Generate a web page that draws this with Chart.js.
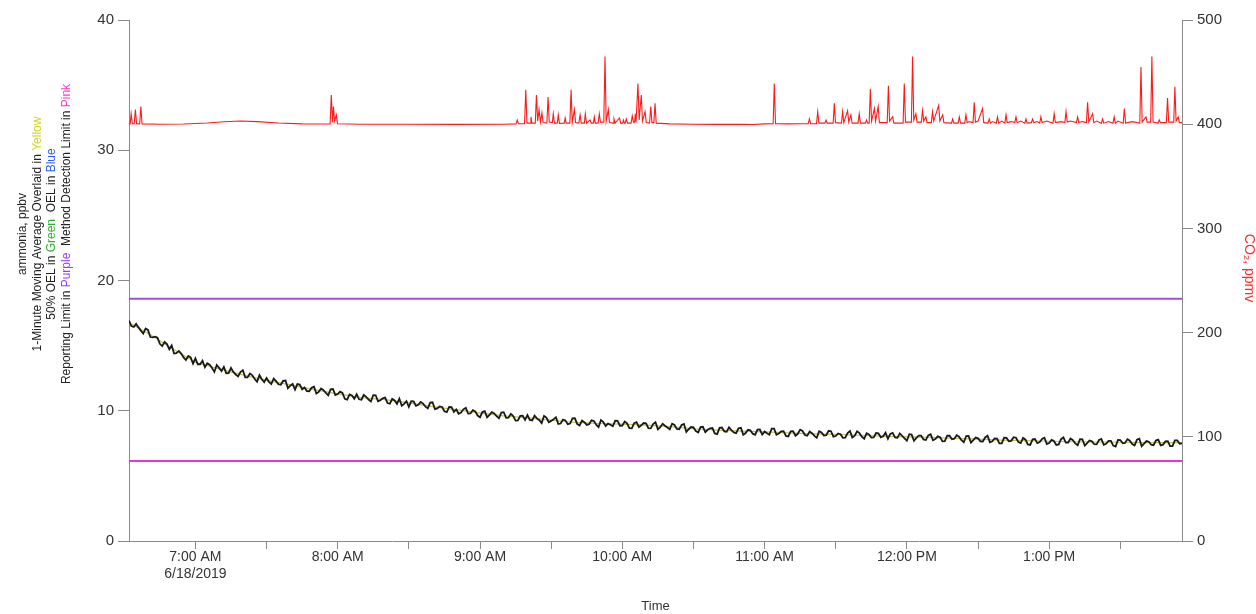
<!DOCTYPE html>
<html>
<head>
<meta charset="utf-8">
<title>Ammonia and CO2</title>
<script src="https://cdn.jsdelivr.net/npm/chart.js@4.4.1/dist/chart.umd.min.js"></script>
<style>
  html, body { margin: 0; padding: 0; background: #fff; }
  #wrap { width: 1256px; height: 614px; }
</style>
</head>
<body>
<div id="wrap"><canvas id="chart" width="1256" height="614"></canvas></div>
<script>
// time axis in minutes after midnight, 6/18/2019
const timeMin = 392;
const timeMax = 836;
const dateLabel = '6/18/2019';

// ammonia raw signal, one reading per minute from 6:32 AM (ppbv)
const rawStartMin = 392;
const rawStepMin = 1;
const ammoniaRaw = [
  16.93, 16.50, 16.43, 16.67, 16.40, 16.15, 15.93, 16.32, 16.21, 15.66,
  15.64, 15.69, 15.61, 15.14, 14.96, 15.28, 15.12, 14.72, 15.01, 14.40,
  14.42, 14.59, 14.39, 14.09, 13.90, 14.20, 14.09, 13.61, 14.02, 13.57,
  13.57, 13.84, 13.34, 13.65, 13.53, 13.29, 12.98, 13.51, 13.29, 13.05,
  13.37, 12.88, 12.89, 13.28, 12.98, 12.78, 12.64, 12.97, 13.11, 12.56,
  12.57, 12.85, 12.72, 12.44, 12.23, 12.73, 12.42, 12.19, 12.52, 12.22,
  12.05, 12.47, 12.27, 12.03, 11.99, 12.29, 12.32, 11.73, 11.92, 12.06,
  11.62, 12.05, 12.01, 11.65, 11.79, 11.51, 11.50, 11.76, 11.84, 11.32,
  11.45, 11.71, 11.58, 11.38, 11.19, 11.64, 11.67, 11.20, 11.28, 11.47,
  11.37, 10.92, 10.85, 11.26, 11.18, 10.92, 11.26, 10.88, 10.85, 11.21,
  11.07, 10.86, 10.71, 11.20, 11.19, 10.72, 10.81, 10.95, 11.01, 10.59,
  10.54, 10.91, 10.79, 10.53, 10.93, 10.39, 10.53, 10.74, 10.29, 10.74,
  10.72, 10.37, 10.45, 10.68, 10.55, 10.31, 10.18, 10.62, 10.65, 10.12,
  10.18, 10.33, 10.29, 9.96, 9.90, 10.29, 10.28, 9.91, 10.10, 9.77,
  9.86, 10.11, 10.22, 9.78, 9.79, 10.05, 9.95, 9.63, 9.50, 9.90,
  9.97, 9.49, 9.68, 9.89, 9.80, 9.59, 9.42, 9.86, 9.89, 9.46,
  9.47, 9.76, 9.59, 9.24, 9.26, 9.61, 9.62, 9.30, 9.67, 9.29,
  9.26, 9.62, 9.41, 9.27, 9.05, 9.60, 9.48, 9.12, 9.22, 9.34,
  9.50, 8.99, 9.02, 9.32, 9.26, 8.96, 9.02, 9.41, 9.42, 8.98,
  8.87, 9.24, 9.12, 8.91, 8.97, 9.26, 9.21, 8.93, 8.75, 9.29,
  9.13, 8.83, 9.01, 8.92, 8.81, 9.23, 9.22, 8.85, 8.86, 9.17,
  9.03, 8.66, 8.65, 9.05, 9.13, 8.75, 8.88, 9.06, 9.04, 8.67,
  8.65, 8.97, 9.12, 8.57, 8.74, 9.00, 8.85, 8.71, 8.58, 9.01,
  8.91, 8.60, 8.58, 8.90, 8.98, 8.38, 8.58, 8.75, 8.72, 8.44,
  8.34, 8.74, 8.77, 8.35, 8.54, 8.65, 8.67, 8.26, 8.21, 8.69,
  8.71, 8.42, 8.39, 8.72, 8.51, 8.34, 8.28, 8.65, 8.69, 8.15,
  8.29, 8.54, 8.50, 8.24, 8.16, 8.55, 8.56, 8.17, 8.40, 8.27,
  8.16, 8.63, 8.63, 8.16, 8.25, 8.41, 8.43, 8.07, 8.03, 8.42,
  8.43, 8.08, 8.23, 8.55, 8.45, 8.14, 8.08, 8.40, 8.28, 8.07,
  7.92, 8.43, 8.33, 8.10, 8.12, 8.46, 8.43, 8.01, 8.06, 8.26,
  8.20, 7.92, 7.93, 8.28, 8.44, 7.94, 8.08, 8.42, 8.28, 8.01,
  7.85, 8.27, 8.18, 7.94, 7.95, 8.29, 8.27, 7.96, 8.04, 8.32,
  7.85, 8.22, 8.30, 7.95, 7.92, 8.26, 8.08, 7.88, 7.70, 8.20,
  8.17, 7.70, 7.92, 8.09, 8.09, 7.80, 7.75, 8.11, 8.20, 7.73,
  7.83, 8.03, 7.96, 7.65, 7.67, 8.08, 8.08, 7.81, 7.85, 8.12,
  8.01, 7.74, 7.58, 8.06, 8.07, 7.55, 7.74, 7.94, 7.88, 7.65,
  7.64, 7.95, 8.08, 7.57, 7.65, 7.87, 7.86, 7.49, 7.50, 7.93,
  7.91, 7.66, 7.69, 7.97, 7.93, 7.59, 7.52, 7.91, 7.78, 7.41,
  7.38, 7.80, 7.83, 7.51, 7.60, 7.83, 7.93, 7.45, 7.52, 7.76,
  7.68, 7.38, 7.42, 7.82, 7.95, 7.56, 7.56, 7.87, 7.74, 7.49,
  7.35, 7.82, 7.81, 7.32, 7.51, 7.72, 7.65, 7.43, 7.42, 7.75,
  7.84, 7.38, 7.47, 7.69, 7.68, 7.32, 7.25, 7.76, 7.75, 7.50,
  7.53, 7.82, 7.70, 7.44, 7.34, 7.77, 7.85, 7.28, 7.47, 7.67,
  7.62, 7.39, 7.36, 7.71, 7.78, 7.34, 7.40, 7.65, 7.66, 7.28,
  7.29, 7.73, 7.73, 7.47, 7.49
];

// 1-minute moving average (yellow overlay)
const avgTime = [392, 400, 410, 420, 430, 440, 450, 460, 470, 480, 490, 500, 510, 520, 530,
  540, 550, 560, 570, 580, 590, 600, 610, 620, 630, 640, 650, 660, 670, 680, 690,
  700, 710, 720, 730, 740, 750, 760, 770, 780, 790, 800, 810, 820, 830, 836];
const avgValue = [16.75, 15.95, 14.80, 13.72, 13.22, 12.75, 12.33, 11.98, 11.62, 11.30, 11.00, 10.85, 10.60, 10.32, 10.08,
  9.82, 9.60, 9.45, 9.28, 9.10, 9.02, 8.97, 8.90, 8.78, 8.62, 8.52, 8.44, 8.38, 8.30, 8.22, 8.18,
  8.12, 8.05, 8.00, 7.95, 7.88, 7.82, 7.75, 7.70, 7.66, 7.62, 7.60, 7.58, 7.56, 7.55, 7.55];

const reportingLimit = 18.6;   // purple
const detectionLimit = 6.15;   // pink

// CO2 trace (ppmv)
const co2Time = [
  392, 392.5, 392.9, 393.4, 394.2, 394.7, 395.2, 396.5, 397.0, 397.5,
  405, 415, 425, 432, 439, 446, 455, 465, 475,
  476.8, 477.3, 477.8, 478.2, 478.7, 479.4, 479.9,
  490, 510, 530, 550,
  555.2, 555.7, 556.2,
  558.8, 559.3, 559.8,
  561.2, 561.5, 561.9,
  563.3, 563.8, 564.3, 564.9, 565.5, 566.1, 566.6,
  568.2, 568.7, 569.2,
  570.5, 570.9, 571.4,
  572.6, 573.0, 573.5,
  575.5, 575.9, 576.3,
  577.9, 578.4, 578.9, 579.8, 580.3,
  581.7, 582.2, 582.7,
  584.0, 584.4, 584.9, 586.4, 586.9,
  587.8, 588.2, 588.6,
  589.8, 590.3, 590.8, 592.2, 592.7, 593.2, 594.1, 594.6,
  596.1, 596.5, 597.0, 598.8, 599.3,
  600.2, 600.5, 600.9,
  601.2, 601.7, 602.2,
  603.7, 604.2, 604.7, 605.2, 605.5, 605.8, 606.1, 606.6, 607.1, 608.0, 608.5, 609.6, 610.1,
  611.5, 612.0, 612.5, 613.3, 613.8, 614.3,
  620, 630, 640, 650, 655, 660,
  663.6, 664.1, 664.6,
  670, 676,
  678.4, 678.9, 679.4,
  681.9, 682.4, 682.9,
  685.4, 685.9, 686.4,
  688.9, 689.4, 689.9,
  692.4, 692.9, 693.4, 695.0, 695.5, 696.4, 696.9,
  699.4, 699.9, 700.4,
  702.5, 703.0, 703.5,
  704.1, 704.6, 705.1, 706.3, 706.8, 707.9, 708.4,
  711.7, 712.2, 712.7, 714.0, 714.5,
  718.4, 718.9, 719.4,
  721.9, 722.4, 722.9, 723.8, 724.3,
  726.1, 726.6, 727.1, 728.0, 728.5,
  730.3, 730.8, 731.3, 733.4, 733.9, 735.1, 735.6,
  738.8, 739.3, 739.8,
  741.6, 742.1, 742.6,
  744.4, 744.9, 745.4, 746.2,
  747.9, 748.4, 748.9, 750.0, 751.9, 752.4,
  754.2, 754.7, 755.2, 756.0,
  757.7, 758.2, 758.7, 760.0,
  761.3, 761.8, 762.3, 764.0,
  765.5, 766.0, 766.5, 768.0,
  769.7, 770.2, 770.7,
  772.5, 773.0, 773.5, 775.0,
  776.0, 776.5, 777.0, 779.0,
  781.6, 782.1, 782.6, 785.0,
  786.6, 787.1, 787.6, 789.0,
  791.5, 792.0, 792.5, 794.0,
  795.7, 796.2, 796.7, 798.3, 798.8, 800.0,
  802.0, 802.5, 803.0, 805.0,
  806.9, 807.4, 807.9, 809.0,
  811.2, 811.7, 812.2, 815.0,
  818.2, 818.7, 819.2, 820.8, 821.3,
  822.8, 823.3, 823.8,
  825.9, 826.4, 826.9,
  829.4, 829.9, 830.4,
  832.5, 833.0, 833.5, 834.4, 834.9, 836
];
const co2Ppm = [
  400.3, 400.3, 410, 400.5, 400.4, 414, 400.4, 400.3, 417, 400.3,
  400.0, 400.2, 401.2, 402.3, 403.0, 402.5, 401.2, 400.3, 400.2,
  400.3, 428, 402, 417, 403, 409, 400.5,
  400.0, 400.0, 399.8, 400.0,
  400.3, 404, 400.5,
  400.5, 433, 401,
  401, 407, 401,
  401, 428, 403, 414, 402, 411, 401.5,
  401, 426, 402,
  401.5, 410, 401,
  401, 409, 400.8,
  401, 406, 401,
  401, 433, 402, 414, 401.5,
  401, 409, 401,
  401, 410, 401, 404, 401,
  401, 407, 401,
  401, 410, 402, 402, 465, 403, 414, 401.5,
  401, 405, 401, 406, 401,
  401, 404, 401,
  401, 405, 401,
  401, 408, 402, 402, 410, 402, 402, 439, 404, 428, 403, 412, 401.5,
  401, 417, 401.5, 401.5, 420, 401,
  400.3, 400.0, 399.8, 400.0, 399.7, 400.3,
  400.5, 439, 400.5,
  400.3, 400.5,
  400.5, 405, 400.5,
  400.5, 412, 401,
  401, 404, 401,
  401, 420, 401.5,
  401, 412, 401.5, 413, 402, 409, 401,
  401, 410, 401,
  401, 404, 401,
  401, 434, 403, 415, 403, 417, 401.5,
  401.5, 437, 403, 407, 401,
  401, 439, 402,
  402, 465, 404, 410, 402,
  402, 413, 403, 407, 401.5,
  401.5, 412, 403, 418, 403, 409, 401.5,
  401, 405, 401,
  401, 407, 401,
  401, 409, 401.5, 402.5,
  401.5, 421, 402, 403, 415, 401.5,
  401, 405, 401, 402.5,
  401, 407, 401, 403,
  401, 409, 401.5, 402.5,
  401.5, 407, 401.5, 403,
  401, 405, 401,
  401.5, 405, 401.5, 402.5,
  401, 407, 401.5, 403,
  401, 410, 401.5, 402.5,
  401.5, 412, 402, 403,
  401.5, 407, 401.5, 402.5,
  401.5, 421, 402, 410, 401.5, 403,
  401, 405, 401, 402.5,
  401, 407, 401, 403,
  401, 415, 401, 402.5,
  401, 455, 402, 407, 402,
  402, 465, 402,
  401, 404, 401.5,
  401.5, 425, 402,
  402, 436, 403, 407, 401.5, 401.5
];

const fontFamily = '"Liberation Sans", Arial, Helvetica, sans-serif';
const axisColor = '#8a8a8a';
const tickText = '#333333';

function clockLabel(min) {
  const h = Math.floor(min / 60);
  const m = Math.round(min % 60);
  const suffix = h >= 12 ? 'PM' : 'AM';
  const h12 = h % 12 === 0 ? 12 : h % 12;
  return h12 + ':' + String(m).padStart(2, '0') + ' ' + suffix;
}

const rawPoints = ammoniaRaw.map((v, i) => ({ x: rawStartMin + i * rawStepMin, y: v }));
const avgPoints = avgTime.map((t, i) => ({ x: t, y: avgValue[i] }));
const co2Points = co2Time.map((t, i) => ({ x: t, y: co2Ppm[i] })).sort((a, b) => a.x - b.x);

// multi-coloured axis captions, drawn straight onto the canvas
const leftCaption = [
  [['ammonia, ppbv', '#222']],
  [['1-Minute Moving Average Overlaid in ', '#222'], ['Yellow', '#d2d21e']],
  [['50% OEL in ', '#222'], ['Green', '#2fae2f'], ['  OEL in ', '#222'], ['Blue', '#2f5cff']],
  [['Reporting Limit in ', '#222'], ['Purple', '#9a3cff'], ['  Method Detection Limit in ', '#222'], ['Pink', '#ff38c8']]
];

const captions = {
  id: 'captions',
  afterDraw(chart) {
    const ctx = chart.ctx;
    const area = chart.chartArea;
    ctx.save();
    ctx.font = '12px ' + fontFamily;
    ctx.textBaseline = 'middle';
    ctx.textAlign = 'left';
    const xs = [23, 37.5, 52, 66.5];
    const cy = 234;
    leftCaption.forEach((line, k) => {
      const total = line.reduce((w, s) => w + ctx.measureText(s[0]).width, 0);
      ctx.save();
      ctx.translate(xs[k], cy);
      ctx.rotate(-Math.PI / 2);
      let x = -total / 2;
      line.forEach(s => {
        ctx.fillStyle = s[1];
        ctx.fillText(s[0], x, 0);
        x += ctx.measureText(s[0]).width;
      });
      ctx.restore();
    });

    // right axis caption
    ctx.save();
    ctx.translate(1249, 268);
    ctx.rotate(Math.PI / 2);
    ctx.textAlign = 'center';
    ctx.fillStyle = '#ff2a2a';
    ctx.font = '14px ' + fontFamily;
    ctx.fillText('CO\u2082, ppmv', 0, 0);
    ctx.restore();

    // bottom caption
    ctx.textAlign = 'center';
    ctx.fillStyle = '#333';
    ctx.font = '13px ' + fontFamily;
    ctx.fillText('Time', (area.left + area.right) / 2, 606);
    ctx.restore();
  }
};

new Chart(document.getElementById('chart'), {
  type: 'line',
  data: {
    datasets: [
      {
        label: 'CO2',
        data: co2Points,
        yAxisID: 'y2',
        borderColor: '#ff1a1a',
        borderWidth: 1.1,
        pointRadius: 0
      },
      {
        label: 'Reporting Limit',
        data: [{ x: timeMin, y: reportingLimit }, { x: timeMax, y: reportingLimit }],
        yAxisID: 'y',
        borderColor: '#9d4cf5',
        borderWidth: 2,
        pointRadius: 0
      },
      {
        label: 'Method Detection Limit',
        data: [{ x: timeMin, y: detectionLimit }, { x: timeMax, y: detectionLimit }],
        yAxisID: 'y',
        borderColor: '#f234c6',
        borderWidth: 2,
        pointRadius: 0
      },
      {
        label: 'ammonia',
        data: rawPoints,
        yAxisID: 'y',
        borderColor: '#1a1a1a',
        borderWidth: 1.8,
        pointRadius: 0
      },
      {
        label: '1-Minute Moving Average',
        data: avgPoints,
        yAxisID: 'y',
        borderColor: 'rgba(180,176,40,0.8)',
        borderWidth: 1.2,
        pointRadius: 0
      }
    ]
  },
  options: {
    responsive: false,
    animation: false,
    devicePixelRatio: 1,
    layout: { padding: { top: 20, left: 0, right: 0, bottom: 0 } },
    plugins: { legend: { display: false }, tooltip: { enabled: false } },
    elements: { line: { tension: 0 } },
    scales: {
      x: {
        type: 'linear',
        min: timeMin,
        max: timeMax,
        afterBuildTicks(scale) {
          const t = [];
          for (let v = 420; v <= timeMax; v += 30) t.push({ value: v });
          scale.ticks = t;
        },
        afterFit(scale) { scale.height = 73; },
        border: { display: true, color: axisColor, width: 1 },
        grid: { drawOnChartArea: false, drawTicks: true, tickLength: 8, color: axisColor },
        ticks: {
          autoSkip: false,
          maxRotation: 0,
          padding: 0,
          color: tickText,
          font: { family: fontFamily, size: 14 },
          callback(v) {
            if (v % 60 !== 0) return '';
            if (v === 420) return [clockLabel(v), dateLabel];
            return clockLabel(v);
          }
        }
      },
      y: {
        position: 'left',
        min: 0,
        max: 40,
        afterFit(scale) { scale.width = 129; },
        border: { display: true, color: axisColor, width: 1 },
        grid: { drawOnChartArea: false, drawTicks: true, tickLength: 11, color: axisColor },
        ticks: { stepSize: 10, padding: 4, color: tickText, font: { family: fontFamily, size: 15 } }
      },
      y2: {
        position: 'right',
        min: 0,
        max: 500,
        afterFit(scale) { scale.width = 74; },
        border: { display: true, color: axisColor, width: 1 },
        grid: { drawOnChartArea: false, drawTicks: true, tickLength: 11, color: axisColor },
        ticks: { stepSize: 100, padding: 4, color: tickText, font: { family: fontFamily, size: 15 } }
      }
    }
  },
  plugins: [captions]
});
</script>
</body>
</html>
